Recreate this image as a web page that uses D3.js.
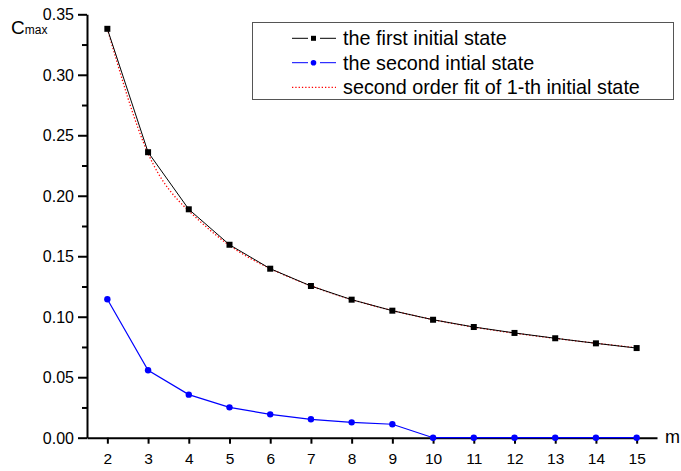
<!DOCTYPE html>
<html>
<head>
<meta charset="utf-8">
<script src="https://cdn.jsdelivr.net/npm/d3@7"></script>
<style>
  body { margin: 0; background: #fff; }
  svg text { font-family: "Liberation Sans", Arial, sans-serif; fill: #000; }
</style>
</head>
<body>
<div class="chart"></div>
<script>
// data
const mValues = [2, 3, 4, 5, 6, 7, 8, 9, 10, 11, 12, 13, 14, 15];
const firstState = [0.338, 0.236, 0.1888, 0.1595, 0.1397, 0.1254, 0.1141, 0.105, 0.0975, 0.0915, 0.0866, 0.0822, 0.078, 0.0741];
const secondState = [0.1144, 0.0557, 0.0356, 0.0251, 0.0193, 0.0152, 0.0127, 0.0111, 0, 0, 0, 0, 0, 0];
const fitValues = [0.338, 0.235, 0.1875, 0.159, 0.1398, 0.1255, 0.1142, 0.1051, 0.0976, 0.0914, 0.0864, 0.0821, 0.0781, 0.0743];
const yMajorTicks = [0, 0.05, 0.1, 0.15, 0.2, 0.25, 0.3, 0.35];
const yMinorTicks = [0.025, 0.075, 0.125, 0.175, 0.225, 0.275, 0.325];
const legendLabels = ["the first initial state", "the second intial state", "second order fit of 1-th initial state"];

let width = 681,
  height = 471;

let svg = d3.select(".chart").append("svg")
  .attr("width", width)
  .attr("height", height);

let x = d3.scaleLinear().domain([1.5, 15.5]).range([87, 657]);
let y = d3.scaleLinear().domain([0, 0.35]).range([437.7, 14.3]);

// y axis, major + minor ticks
svg.append("g")
  .attr("transform", "translate(" + x(1.5) + ",0)")
  .call(d3.axisLeft(y).tickValues(yMinorTicks).tickSize(5).tickFormat(""))
  .call(g => g.select(".domain").remove())
  .call(g => g.selectAll("line").attr("stroke-width", 2));

svg.append("g")
  .attr("transform", "translate(" + x(1.5) + ",0)")
  .call(d3.axisLeft(y).tickValues(yMajorTicks).tickSize(9).tickSizeOuter(0).tickPadding(4).tickFormat(d3.format(".2f")))
  .call(g => g.select(".domain").attr("stroke-width", 2))
  .call(g => g.selectAll("line").attr("stroke-width", 2))
  .call(g => g.selectAll("text").attr("font-size", 16).attr("dy", "0.35em"));

// x axis
svg.append("g")
  .attr("transform", "translate(0," + y(0) + ")")
  .call(d3.axisBottom(x).tickValues(mValues).tickSize(6).tickSizeOuter(0).tickPadding(9))
  .call(g => g.select(".domain").attr("stroke-width", 2))
  .call(g => g.selectAll("line").attr("stroke-width", 2))
  .call(g => g.selectAll("text").attr("font-size", 15.5));

// axis titles
let yTitle = svg.append("text").attr("x", 11).attr("y", 34);
yTitle.append("tspan").attr("font-size", 19).text("C");
yTitle.append("tspan").attr("font-size", 12).text("max");

svg.append("text")
  .attr("x", 665)
  .attr("y", 443)
  .attr("font-size", 18)
  .text("m");

let idx = d3.range(mValues.length);

// fit curve (red dotted)
svg.append("path")
  .datum(idx)
  .attr("fill", "none")
  .attr("stroke", "#ff0000")
  .attr("stroke-width", 1.3)
  .attr("stroke-dasharray", "1.3,2")
  .attr("d", d3.line().curve(d3.curveNatural).x(i => x(mValues[i])).y(i => y(fitValues[i])));

// first state
svg.append("path")
  .datum(idx)
  .attr("fill", "none")
  .attr("stroke", "#000")
  .attr("stroke-width", 1)
  .attr("d", d3.line().x(i => x(mValues[i])).y(i => y(firstState[i])));

svg.selectAll(".sq")
  .data(idx)
  .enter().append("rect")
  .attr("class", "sq")
  .attr("x", i => x(mValues[i]) - 3)
  .attr("y", i => y(firstState[i]) - 3)
  .attr("width", 6)
  .attr("height", 6)
  .attr("fill", "#000");

// second state
svg.append("path")
  .datum(idx)
  .attr("fill", "none")
  .attr("stroke", "#0000ff")
  .attr("stroke-width", 1.2)
  .attr("d", d3.line().x(i => x(mValues[i])).y(i => y(secondState[i])));

svg.selectAll(".dot")
  .data(idx)
  .enter().append("circle")
  .attr("class", "dot")
  .attr("cx", i => x(mValues[i]))
  .attr("cy", i => y(secondState[i]))
  .attr("r", 3.2)
  .attr("fill", "#0000ff");

// legend
let legend = svg.append("g");
legend.append("rect")
  .attr("x", 252.5)
  .attr("y", 22.5)
  .attr("width", 421)
  .attr("height", 77)
  .attr("fill", "#fff")
  .attr("stroke", "#555")
  .attr("stroke-width", 1);

let rowY = [38.3, 62.7, 87.3];
let rows = legend.selectAll(".row")
  .data(legendLabels)
  .enter().append("g")
  .attr("class", "row")
  .attr("transform", (d, i) => "translate(0," + rowY[i] + ")");

rows.append("text")
  .attr("x", 343)
  .attr("dy", "0.35em")
  .attr("font-size", 19.8)
  .text(d => d);

// row sample lines
rows.filter((d, i) => i < 2).append("line")
  .attr("x1", 292).attr("x2", 308)
  .attr("stroke", (d, i) => i == 0 ? "#000" : "#0000ff");
rows.filter((d, i) => i < 2).append("line")
  .attr("x1", 320).attr("x2", 336)
  .attr("stroke", (d, i) => i == 0 ? "#000" : "#0000ff");

rows.filter((d, i) => i == 0).append("rect")
  .attr("x", 311).attr("y", -2.5).attr("width", 5).attr("height", 5).attr("fill", "#000");
rows.filter((d, i) => i == 1).append("circle")
  .attr("cx", 313.5).attr("r", 2.8).attr("fill", "#0000ff");
rows.filter((d, i) => i == 2).append("line")
  .attr("x1", 292).attr("x2", 336)
  .attr("stroke", "#ff0000")
  .attr("stroke-width", 1.3)
  .attr("stroke-dasharray", "1.3,2");
</script>
</body>
</html>
